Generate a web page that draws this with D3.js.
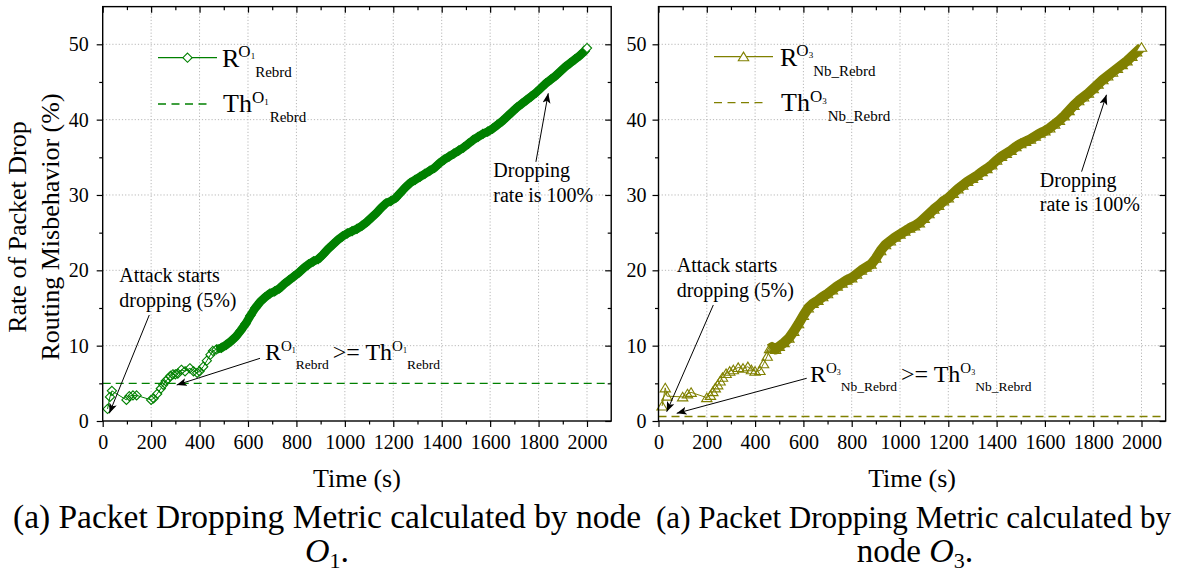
<!DOCTYPE html>
<html><head><meta charset="utf-8">
<script src="https://cdn.jsdelivr.net/npm/d3@7"></script>
<style>
body{margin:0;background:#fff}
svg{display:block}
text{font-family:"Liberation Serif","Times New Roman",serif;fill:#000}
</style>
</head><body>
<svg id="c" width="1178" height="574"></svg>
<script>
// ---------------- data ----------------
const xTickValues = [0,200,400,600,800,1000,1200,1400,1600,1800,2000];
const yTickValues = [0,10,20,30,40,50];
const xDomain = [0,2100];
const yDomain = [0,55];

// R^{O1}_{Rebrd} (time s, %)
const seriesO1 = [
[20,1.6],[30,3.2],[38,4.0],[98,2.8],[110,3.3],[125,3.4],[140,3.4],[200,2.8],[210,3.0],[225,3.6],
[240,4.3],[250,4.8],[260,5.3],[270,5.6],[280,6.0],[290,6.2],[300,6.2],[310,6.3],[325,6.8],[340,6.6],
[360,7.0],[375,6.6],[390,6.4],[400,6.6],[415,7.2],[430,8.0],[445,8.8],[455,9.3],[470,9.5],[490,9.7],
[510,10.1],[530,10.6],[550,11.2],[570,12.0],[590,12.9],[610,14.0],[630,15.0],[650,15.8],[670,16.4],[690,16.9],
[710,17.2],[730,17.6],[750,18.2],[770,18.7],[790,19.2],[810,19.7],[830,20.3],[850,20.8],[870,21.2],[890,21.5],
[910,22.1],[930,22.8],[950,23.4],[970,24.0],[990,24.5],[1010,24.9],[1030,25.2],[1050,25.5],[1070,25.9],[1090,26.4],
[1110,27.0],[1130,27.6],[1150,28.3],[1170,28.9],[1190,29.2],[1210,29.6],[1230,30.3],[1250,31.0],[1270,31.6],[1290,32.0],
[1310,32.4],[1330,32.8],[1350,33.2],[1370,33.6],[1390,34.2],[1410,34.7],[1430,35.1],[1450,35.5],[1470,35.9],[1490,36.3],
[1510,36.8],[1530,37.3],[1550,37.7],[1570,38.1],[1590,38.4],[1610,38.8],[1630,39.3],[1650,39.8],[1670,40.4],[1690,41.0],
[1710,41.6],[1730,42.1],[1750,42.6],[1770,43.1],[1790,43.6],[1810,44.2],[1830,44.8],[1850,45.3],[1870,45.8],[1890,46.4],
[1910,47.0],[1930,47.5],[1950,48.0],[1970,48.5],[1990,49.1],[2000,49.5]
];
// R^{O3}_{Nb_Rebrd}
const seriesO3 = [
[15,2.0],[28,4.4],[35,3.3],[100,3.2],[120,3.6],[135,3.8],[200,3.1],[215,3.4],[225,3.9],[235,4.4],
[245,4.8],[255,5.3],[265,5.8],[280,6.3],[295,6.6],[310,6.8],[330,7.1],[350,7.0],[370,7.2],[385,6.8],
[400,6.6],[420,6.7],[435,7.6],[450,8.6],[460,9.6],[470,9.8],[485,9.5],[500,9.9],[520,10.4],[540,11.0],
[560,11.9],[580,12.9],[600,14.0],[620,15.0],[640,15.6],[660,16.0],[680,16.5],[700,16.9],[720,17.4],[740,17.9],
[760,18.3],[780,18.7],[800,19.0],[820,19.5],[840,20.0],[860,20.4],[880,20.8],[900,21.6],[920,22.6],[940,23.4],
[960,23.9],[980,24.4],[1000,24.8],[1020,25.2],[1040,25.6],[1060,25.9],[1080,26.3],[1100,26.9],[1120,27.5],[1140,28.1],
[1160,28.6],[1180,29.2],[1200,29.6],[1220,30.2],[1240,30.8],[1260,31.3],[1280,31.8],[1300,32.2],[1320,32.6],[1340,33.1],
[1360,33.5],[1380,34.0],[1400,34.6],[1420,35.1],[1440,35.5],[1460,35.9],[1480,36.4],[1500,36.8],[1520,37.1],[1540,37.4],
[1560,37.8],[1580,38.2],[1600,38.5],[1620,38.9],[1640,39.4],[1660,39.9],[1680,40.5],[1700,41.2],[1720,41.9],[1740,42.5],
[1760,43.0],[1780,43.5],[1800,44.1],[1820,44.7],[1840,45.3],[1860,45.8],[1880,46.3],[1900,46.8],[1920,47.3],[1940,47.8],
[1960,48.4],[1980,49.0],[2000,49.6]
];
const thresholdO1 = 5;
const thresholdO3 = 0.6;
const denseFromO1 = 470;
const denseFromO3 = 460;

const xTitle = "Time (s)";
const yTitleLines = ["Rate of Packet Drop","Routing Misbehavior (%)"];
const annAttack = ["Attack starts","dropping (5%)"];
const annDrop = ["Dropping","rate is 100%"];
const captionO1 = "(a) Packet Dropping Metric calculated by node";
const captionO3 = "(a) Packet Dropping Metric calculated by";

// ---------------- drawing ----------------
const svg = d3.select("#c");
const defs = svg.append("defs");
defs.append("marker").attr("id","arr").attr("markerUnits","userSpaceOnUse")
  .attr("markerWidth",12).attr("markerHeight",10).attr("refX",10).attr("refY",4)
  .attr("orient","auto")
  .append("path").attr("d","M0,0 L10,4 L0,8 L2.5,4 Z").attr("fill","#000");

const diamond = "M0,-4.6 L4.6,0 L0,4.6 L-4.6,0 Z";
const triangle = "M0,-4.6 L5.2,4 L-5.2,4 Z";

function rich(g, x, y, parts, anchor){
  const t = g.append("text").attr("x",x).attr("y",y).attr("text-anchor",anchor||"start");
  parts.forEach(p=>{
    const ts = t.append("tspan").text(p.t).attr("font-size",p.s);
    if(p.dy) ts.attr("dy",p.dy);
    if(p.dx) ts.attr("dx",p.dx);
    if(p.it) ts.attr("font-style","italic");
  });
  return t;
}

function panel(cfg){
  const x = d3.scaleLinear().domain(xDomain).range([cfg.x0, cfg.x0 + 2100*cfg.kx]);
  const y = d3.scaleLinear().domain(yDomain).range([421, 421 - 55*7.534]);
  const g = svg.append("g");
  const [L,R] = x.range(), [B,T] = y.range();

  // grid
  g.append("g").selectAll("line").data(xTickValues.filter(v=>v>0)).join("line")
    .attr("x1",d=>x(d)).attr("x2",d=>x(d)).attr("y1",B).attr("y2",T)
    .attr("stroke","#b8b8b8").attr("stroke-width",1).attr("stroke-dasharray","1.2,2");
  g.append("g").selectAll("line").data(yTickValues.filter(v=>v>0)).join("line")
    .attr("x1",L).attr("x2",R).attr("y1",d=>y(d)).attr("y2",d=>y(d))
    .attr("stroke","#b8b8b8").attr("stroke-width",1).attr("stroke-dasharray","1.2,2");

  // axes
  const minorX = d3.range(100,2100,200), minorY = d3.range(5,55,10);
  const ax = (gen, sc, tr, vals, size, labels) => {
    const a = gen(sc).tickValues(vals).tickSize(size).tickPadding(8);
    a.tickFormat(labels ? d3.format("d") : "");
    const ag = g.append("g").attr("transform",tr).call(a);
    ag.select(".domain").remove();
    ag.selectAll("line").attr("stroke","#000").attr("stroke-width",1.2);
    ag.selectAll("text").attr("font-size",20).attr("font-family","Liberation Serif, serif").attr("fill","#000");
    return ag;
  };
  ax(d3.axisBottom, x, `translate(0,${B})`, xTickValues, 6, true);
  ax(d3.axisBottom, x, `translate(0,${B})`, minorX, 3.5, false);
  ax(d3.axisTop, x, `translate(0,${T})`, xTickValues, -6, false);
  ax(d3.axisTop, x, `translate(0,${T})`, minorX, -3.5, false);
  const yl = ax(d3.axisLeft, y, `translate(${L},0)`, yTickValues, 6, true);
  yl.selectAll("text").attr("dx", cfg.ylabDx||0);
  ax(d3.axisLeft, y, `translate(${L},0)`, minorY, 3.5, false);
  ax(d3.axisRight, y, `translate(${R},0)`, yTickValues, -6, false);
  ax(d3.axisRight, y, `translate(${R},0)`, minorY, -3.5, false);

  // threshold
  g.append("line").attr("x1",L).attr("x2",R).attr("y1",y(cfg.thr)).attr("y2",y(cfg.thr))
    .attr("stroke",cfg.color).attr("stroke-width",1.3).attr("stroke-dasharray","8,5");

  // series
  const line = d3.line().x(d=>x(d[0])).y(d=>y(d[1]));
  const dense = cfg.data.filter(d=>d[0]>=cfg.denseFrom);
  g.append("path").attr("d",line(dense)).attr("fill","none").attr("stroke",cfg.color)
    .attr("stroke-width",cfg.band).attr("stroke-linejoin","round").attr("stroke-linecap","butt");
  g.append("path").attr("d",line(cfg.data)).attr("fill","none").attr("stroke",cfg.color).attr("stroke-width",1);
  g.append("g").selectAll("path").data(cfg.data).join("path")
    .attr("d",cfg.sym).attr("transform",d=>`translate(${x(d[0])},${y(d[1])})`)
    .attr("fill",(d,i)=> i===cfg.data.length-1 ? "#fff" : "none")
    .attr("stroke",cfg.color).attr("stroke-width",1.1);

  // frame
  g.append("rect").attr("x",L).attr("y",T).attr("width",R-L).attr("height",B-T)
    .attr("fill","none").attr("stroke","#000").attr("stroke-width",1.4);

  // legend
  const lg = cfg.leg;
  g.append("line").attr("x1",lg.x1).attr("x2",lg.x1+59).attr("y1",lg.y1).attr("y2",lg.y1)
    .attr("stroke",cfg.color).attr("stroke-width",1.2);
  g.append("path").attr("d",cfg.sym).attr("transform",`translate(${lg.x1+29.5},${lg.y1})`)
    .attr("fill","#fff").attr("stroke",cfg.color).attr("stroke-width",1.1);
  g.append("line").attr("x1",lg.x1).attr("x2",lg.x1+50).attr("y1",lg.y2).attr("y2",lg.y2)
    .attr("stroke",cfg.color).attr("stroke-width",1.3).attr("stroke-dasharray","8,5.5");
  rich(g, lg.tx, lg.y1+9, [{t:"R",s:26},{t:"O",s:17,dy:-9.5,dx:-1},{t:cfg.node,s:9,dy:2},{t:cfg.sub,s:15,dy:17.5,dx:0}]);
  rich(g, lg.tx+1, lg.y2+8, [{t:"Th",s:26},{t:"O",s:17,dy:-9,dx:0},{t:cfg.node,s:9,dy:2},{t:cfg.sub,s:15,dy:17,dx:1}]);

  // annotations
  const A = cfg.ann;
  const arrow = (a)=> g.append("line").attr("x1",x(a[0])).attr("y1",y(a[1])).attr("x2",x(a[2])).attr("y2",y(a[3]))
      .attr("stroke","#000").attr("stroke-width",1).attr("marker-end","url(#arr)");
  g.append("text").attr("x",x(A.attack[0])).attr("y",y(A.attack[1])).attr("font-size",20).text(annAttack[0]);
  g.append("text").attr("x",x(A.attack[0])).attr("y",y(A.attack[1])+25).attr("font-size",20).text(annAttack[1]);
  arrow(A.attackArrow);
  g.append("text").attr("x",x(A.drop[0])).attr("y",y(A.drop[1])).attr("font-size",20).text(annDrop[0]);
  g.append("text").attr("x",x(A.drop[0])).attr("y",y(A.drop[1])+24.5).attr("font-size",20).text(annDrop[1]);
  arrow(A.dropArrow);
  rich(g, x(A.cmp[0]), y(A.cmp[1]), [
    {t:"R",s:24},{t:"O",s:15,dy:-9},{t:cfg.node,s:8,dy:2},{t:cfg.sub,s:13.5,dy:16},
    {t:">= Th",s:24,dy:-9,dx:4},{t:"O",s:15,dy:-9},{t:cfg.node,s:8,dy:2},{t:cfg.sub,s:13.5,dy:16}]);
  arrow(A.cmpArrow);

  // x title
  g.append("text").attr("x",(L+R)/2).attr("y",487).attr("text-anchor","middle").attr("font-size",26).text(xTitle);
  return {x,y};
}

panel({x0:102.7, kx:0.24215, data:seriesO1, thr:thresholdO1, color:"#008000", sym:diamond,
  denseFrom:denseFromO1, band:8.5, node:"1", sub:"Rebrd",
  leg:{x1:158, y1:57.7, y2:104, tx:222},
  ann:{attack:[68.6,18.49], attackArrow:[192.4,14.07,27.3,1.02],
       drop:[1613,32.35], dropArrow:[1789,34.4,1840,43.5],
       cmp:[670,8.1], cmpArrow:[649.6,8.32,305.6,4.78]}});

panel({x0:658.5, kx:0.2415, data:seriesO3, thr:thresholdO3, color:"#808000", sym:triangle,
  denseFrom:denseFromO3, band:10, node:"3", sub:"Nb_Rebrd", ylabDx:2,
  leg:{x1:714, y1:56.7, y2:102.7, tx:780},
  ann:{attack:[75.4,19.8], attackArrow:[227,15.4,34,1.23],
       drop:[1579,31.1], dropArrow:[1752,33.1,1855,43.3],
       cmp:[627,5.2], cmpArrow:[613.7,5.67,75.4,1.02]}});

// y title (left panel)
const yt = svg.append("text").attr("transform","translate(26,227) rotate(-90)").attr("text-anchor","middle").attr("font-size",26);
yt.append("tspan").attr("x",0).attr("y",0).text(yTitleLines[0]);
yt.append("tspan").attr("x",0).attr("y",33).text(yTitleLines[1]);

// captions
svg.append("text").attr("x",327).attr("y",528).attr("text-anchor","middle").attr("font-size",33.5)
  .attr("textLength",628).attr("lengthAdjust","spacingAndGlyphs").text(captionO1);
rich(svg, 327, 562, [{t:"O",s:34,it:true},{t:"1",s:22,dy:6},{t:".",s:34,dy:-6}], "middle");
svg.append("text").attr("x",913.5).attr("y",528).attr("text-anchor","middle").attr("font-size",31.5)
  .attr("textLength",515).attr("lengthAdjust","spacingAndGlyphs").text(captionO3);
rich(svg, 915, 562, [{t:"node ",s:33},{t:"O",s:34,it:true},{t:"3",s:22,dy:6},{t:".",s:34,dy:-6}], "middle");
</script>
</body></html>
